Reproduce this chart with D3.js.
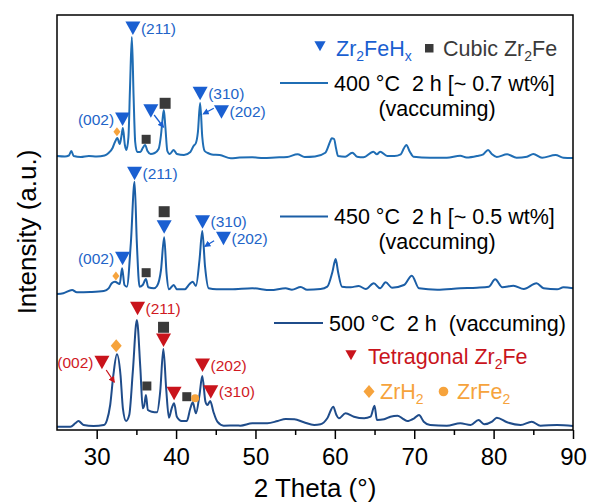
<!DOCTYPE html>
<html>
<head>
<meta charset="utf-8">
<script src="https://cdn.jsdelivr.net/npm/d3@7"></script>
<style>
  body { margin: 0; background: #fff; }
  text { font-family: Arial, "Liberation Sans", sans-serif; }
</style>
</head>
<body>
<svg id="xrd" width="589" height="503"></svg>
<script>
// 2 theta (deg) / intensity (a.u., relative to each pattern's own baseline)
var pattern400 = [
  [25.0, 1], [26.0, 0.5], [26.5, 1.5], [26.8, 6], [27.1, 1], [28.0, 0], [29.0, 1], [30.0, 0.5],
  [31.0, 1.5], [31.5, 4], [32.0, 9], [32.3, 15], [32.6, 19], [32.9, 13], [33.1, 20], [33.3, 29],
  [33.55, 12], [33.75, 7], [34.0, 20], [34.2, 70], [34.43, 120], [34.65, 60], [34.85, 15], [35.1, 5],
  [35.5, 5], [35.8, 9], [36.1, 12], [36.4, 6], [36.8, 3], [37.3, 4], [37.8, 8], [38.1, 22],
  [38.3, 38], [38.46, 47], [38.65, 30], [38.9, 6], [39.2, 3], [39.7, 7], [40.1, 3], [41.0, 2],
  [41.8, 5], [42.2, 11], [42.5, 14], [42.75, 25], [43.03, 54], [43.3, 20], [43.6, 6], [44.0, 4],
  [44.5, 2.5], [45.5, 2], [46.9, -1.3], [48.0, -0.5], [49.6, -0.3], [51.0, -1], [52.5, -0.5],
  [54.0, 0], [55.3, 2.7], [56.2, 0], [57.5, 0.5], [58.8, 4.3], [59.4, 15.3], [59.6, 18.7],
  [59.9, 18], [60.15, 8.7], [60.4, 1], [61.3, 0.3], [62.2, 4.3], [62.8, 0.3], [63.6, -0.3],
  [64.85, 5.3], [65.3, 2.7], [65.7, 5.3], [66.6, 1], [67.5, 1], [68.3, 2.7], [68.7, 8.7], [69.0, 12],
  [69.45, 5.3], [69.9, 0.3], [72.0, -0.7], [74.1, -0.7], [75.8, 1.3], [76.6, -0.5], [77.9, 1],
  [78.7, 2.7], [79.3, 7], [79.8, 2.7], [80.4, 0], [81.7, 2.7], [82.9, -0.7], [84.2, 0.3], [85.0, 3],
  [86.1, -0.7], [87.8, 2], [88.8, -0.7], [90.0, -1]
];
var pattern450 = [
  [25.0, -4], [25.8, -3.3], [26.9, 0], [27.5, -2.3], [29.2, -2], [30.9, -1], [31.5, 1.7], [31.9, 6.7],
  [32.3, 8.3], [32.9, 6], [33.2, 21.7], [33.5, 5], [33.8, 3.3], [34.3, 46.7], [34.77, 108.3],
  [35.06, 46.7], [35.4, 3.3], [35.8, 5], [36.2, 11], [36.5, 2.7], [37.2, 1.7], [37.6, 4], [38.1, 20],
  [38.5, 52.7], [38.8, 16.7], [39.1, 0.7], [39.7, 5], [40.1, 0.7], [41.1, 0.7], [41.7, 6], [42.1, 8.3],
  [42.5, 4], [42.95, 30], [43.3, 59], [43.65, 23.3], [44.1, 1.7], [45.1, 0.7], [46.9, 0.7],
  [49.6, 1.7], [51.9, 0], [53.8, 1.7], [54.6, 0.3], [55.7, 3], [56.5, 0.3], [58.2, 1], [59.05, 3.3],
  [59.7, 18.3], [60.1, 31], [60.4, 18.3], [60.9, 3.3], [62.0, 2.7], [63.0, 4], [63.9, 1], [64.9, 6.7],
  [65.7, 1.7], [66.4, 7.7], [67.2, 2.3], [68.7, 5], [69.7, 14.3], [70.6, 1.7], [72.9, 0.3],
  [75.8, 1.7], [77.9, 2.3], [79.4, 3.3], [80.2, 10.7], [81.1, 2.7], [82.5, 4.3], [83.8, 1],
  [85.4, 6.7], [86.3, 1.7], [88.0, 0.7], [88.8, 2.7], [90.0, 1.7]
];
var pattern500 = [
  [25.0, -0.7], [26.7, -0.7], [27.3, 2.7], [27.7, 5], [28.35, 1], [29.6, 0], [30.9, 1], [31.3, 6],
  [31.7, 21], [32.1, 51], [32.55, 71.7], [33.0, 51], [33.3, 17.7], [33.7, 5], [34.1, 11], [34.55, 54.3],
  [35.06, 106], [35.5, 57.7], [35.8, 17.7], [36.0, 21], [36.2, 31], [36.45, 16], [36.95, 14.3],
  [37.6, 13.7], [38.0, 34.3], [38.4, 77], [38.75, 37.7], [39.1, 8.3], [39.45, 17.7], [39.75, 22.7],
  [40.1, 9.3], [40.7, 5], [41.35, 5], [41.8, 17.7], [42.1, 23.7], [42.5, 12.7], [42.95, 31], [43.3, 50],
  [43.7, 24.3], [43.95, 21], [44.3, 25], [44.7, 14.3], [45.2, 4.3], [46.0, 0.3], [47.6, 0.5],
  [48.1, 0.3], [49.6, 2.7], [51.5, 2.7], [52.8, 5], [53.8, 7], [54.9, 6.7], [56.1, 3.7], [57.4, 1],
  [58.2, 1.7], [59.05, 7.7], [59.8, 19.3], [60.2, 11], [60.5, 7.7], [61.35, 12.7], [62.4, 9.3],
  [63.7, 7.7], [64.5, 9.3], [65.0, 20.3], [65.3, 6], [66.2, 6.7], [67.0, 9.3], [67.9, 10.3], [68.5, 7.7],
  [69.1, 5], [70.0, 7.7], [70.6, 11], [71.2, 4.3], [72.0, 1], [74.1, 0.3], [75.8, 2.7], [77.1, 1],
  [78.1, 6], [78.8, 1.7], [79.8, 4.3], [80.4, 8.3], [81.7, 3.7], [83.4, 1], [84.8, 4.3], [85.9, 0.3],
  [88.0, 1], [90.0, 0]
];
var offsets = [273, 140, 4];
var seriesNames = ["400", "450", "500"];
var seriesColors = ["#1f6db4", "#1b5ea6", "#1f4c8a"];
var xTicks = [30, 40, 50, 60, 70, 80, 90];
var xMinorTicks = [35, 45, 55, 65, 75, 85];

// peak markers: [series, type, 2theta, height, label, label side]
var peakMarks = [
  ["400", "tri", 34.56, 402, "(211)", "r"],
  ["400", "tri", 43.03, 336.7, "(310)", "r"],
  ["400", "tri", 45.72, 318.3, "(202)", "r"],
  ["400", "tri", 33.26, 311, "(002)", "l"],
  ["400", "tri", 36.82, 319.3, "", ""],
  ["400", "dia", 32.55, 298.3, "", ""],
  ["400", "sq", 36.23, 290.7, "", ""],
  ["400", "sqL", 38.62, 326.7, "", ""],
  ["450", "tri", 34.77, 256.7, "(211)", "r"],
  ["450", "sqL", 38.5, 218.3, "", ""],
  ["450", "tri", 38.5, 203.3, "", ""],
  ["450", "tri", 43.33, 208.3, "(310)", "r"],
  ["450", "tri", 45.97, 191.7, "(202)", "r"],
  ["450", "tri", 33.26, 171.7, "(002)", "l"],
  ["450", "dia", 32.42, 154, "", ""],
  ["450", "sq", 36.23, 157.3, "", ""],
  ["500", "rtri", 35.15, 121.7, "(211)", "r"],
  ["500", "sqL", 38.42, 102.7, "", ""],
  ["500", "rtri", 38.42, 90, "", ""],
  ["500", "diaL", 32.46, 84.3, "", ""],
  ["500", "rtri", 30.66, 67.7, "(002)", "l"],
  ["500", "sq", 36.32, 44, "", ""],
  ["500", "rtri", 39.75, 36.7, "", ""],
  ["500", "sq", 41.35, 33.3, "", ""],
  ["500", "dot", 42.4, 31.7, "", ""],
  ["500", "rtri", 43.33, 65, "(202)", "r"],
  ["500", "rtri", 44.37, 38.3, "(310)", "r"]
];
// small arrows from a marker to its peak: [x1, y1, x2, y2, colour]
var arrows = [
  [44.75, 321.7, 43.45, 316.2, "#1a5fd1"],
  [37.24, 315, 38.4, 303, "#1a5fd1"],
  [44.79, 189.3, 43.65, 183.8, "#1a5fd1"],
  [31.2, 60, 32.2, 48, "#c9141c"]
];

var blue = "#1a5fd1", red = "#c9141c", orange = "#f6a33c", grey = "#3a3a3a";

var svg = d3.select("#xrd");
var x = d3.scaleLinear().domain([25, 90]).range([57, 573]);
var y = d3.scaleLinear().domain([0, 415]).range([430, 15]);

// arrow head
svg.append("defs").selectAll("marker")
  .data([["ab", blue], ["ar", red]]).enter().append("marker")
  .attr("id", function(d) { return d[0]; })
  .attr("viewBox", "0 0 10 10").attr("refX", 8).attr("refY", 5)
  .attr("markerWidth", 5).attr("markerHeight", 5).attr("orient", "auto")
  .append("path").attr("d", "M0,0L10,5L0,10z").attr("fill", function(d) { return d[1]; });

// traces
var line = d3.line()
  .x(function(d) { return x(d[0]); })
  .curve(d3.curveMonotoneX);
[pattern400, pattern450, pattern500].forEach(function(p, i) {
  svg.append("path")
    .attr("d", line.y(function(d) { return y(d[1] + offsets[i]); })(p))
    .attr("fill", "none")
    .attr("stroke", seriesColors[i])
    .attr("stroke-width", 2)
    .attr("stroke-linejoin", "round");
});

// frame
svg.append("rect").attr("x", 57).attr("y", 15).attr("width", 516).attr("height", 415)
  .attr("fill", "none").attr("stroke", "#000").attr("stroke-width", 1.5);

// x axis
var xAxis = svg.append("g").attr("transform", "translate(0,430)")
  .call(d3.axisBottom(x).tickValues(xTicks).tickSize(9).tickPadding(9).tickFormat(d3.format("d")));
xAxis.select(".domain").remove();
xAxis.selectAll("line").attr("stroke-width", 1.5);
xAxis.selectAll("text").attr("font-size", 24).attr("fill", "#000")
  .style("font-family", "Arial, 'Liberation Sans', sans-serif");
var xMinor = svg.append("g").attr("transform", "translate(0,430)")
  .call(d3.axisBottom(x).tickValues(xMinorTicks).tickSize(5).tickFormat(""));
xMinor.select(".domain").remove();
xMinor.selectAll("line").attr("stroke-width", 1.5);

svg.append("text").attr("x", 315).attr("y", 497).attr("text-anchor", "middle")
  .attr("font-size", 26).text("2 Theta (°)");
svg.append("text").attr("transform", "translate(36,232) rotate(-90)")
  .attr("text-anchor", "middle").attr("font-size", 26).text("Intensity (a.u.)");

// marker shapes
function drawShape(g, type, cx, cy) {
  if (type === "tri" || type === "rtri") {
    g.append("path")
      .attr("d", "M" + (cx - 7.5) + "," + (cy - 6.5) + "L" + (cx + 7.5) + "," + (cy - 6.5) + "L" + cx + "," + (cy + 7) + "Z")
      .attr("fill", type === "tri" ? blue : red);
  } else if (type === "sq" || type === "sqL") {
    var s = type === "sq" ? 9 : 11;
    g.append("rect").attr("x", cx - s / 2).attr("y", cy - s / 2).attr("width", s).attr("height", s)
      .attr("fill", grey);
  } else if (type === "dia" || type === "diaL") {
    var w = type === "dia" ? 3.5 : 5.5, h = type === "dia" ? 4.5 : 6.5;
    g.append("path")
      .attr("d", "M" + cx + "," + (cy - h) + "L" + (cx + w) + "," + cy + "L" + cx + "," + (cy + h) + "L" + (cx - w) + "," + cy + "Z")
      .attr("fill", orange);
  } else if (type === "dot") {
    g.append("circle").attr("cx", cx).attr("cy", cy).attr("r", 4).attr("fill", orange);
  }
}

var marks = svg.append("g");
peakMarks.forEach(function(m) {
  var cx = x(m[2]), cy = y(m[3]);
  drawShape(marks, m[1], cx, cy);
  if (m[4]) {
    marks.append("text")
      .attr("x", m[5] === "r" ? cx + 8 : cx - 8.5)
      .attr("y", cy + 5.5)
      .attr("text-anchor", m[5] === "r" ? "start" : "end")
      .attr("font-size", 15.5)
      .attr("fill", m[1] === "rtri" ? "#d0191f" : "#2264c8")
      .text(m[4]);
  }
});
arrows.forEach(function(a) {
  marks.append("line")
    .attr("x1", x(a[0])).attr("y1", y(a[1])).attr("x2", x(a[2])).attr("y2", y(a[3]))
    .attr("stroke", a[4]).attr("stroke-width", 1.3)
    .attr("marker-end", a[4] === red ? "url(#ar)" : "url(#ab)");
});

// legends
var leg = svg.append("g").attr("font-size", 21.5);
drawShape(leg, "tri", 320, 46);
leg.select("path:last-child").attr("transform", "translate(320,46) scale(0.75) translate(-320,-46)");
var t1 = leg.append("text").attr("x", 336).attr("y", 56).attr("fill", blue);
t1.append("tspan").text("Zr");
t1.append("tspan").attr("font-size", 14).attr("dy", 5).text("2");
t1.append("tspan").attr("dy", -5).text("FeH");
t1.append("tspan").attr("font-size", 14).attr("dy", 5).text("x");
leg.append("rect").attr("x", 425).attr("y", 44).attr("width", 8.5).attr("height", 8.5).attr("fill", grey);
var t2 = leg.append("text").attr("x", 443).attr("y", 56).attr("fill", grey);
t2.append("tspan").text("Cubic Zr");
t2.append("tspan").attr("font-size", 14).attr("dy", 5).text("2");
t2.append("tspan").attr("dy", -5).text("Fe");

var legLines = [
  [280, 328, 83, "400 °C  2 h [~ 0.7 wt%]", 334, "(vaccuming)"],
  [280, 328, 216.5, "450 °C  2 h [~ 0.5 wt%]", 334, "(vaccuming)"],
  [274, 323, 323, "500 °C  2 h  (vaccuming)", 329, ""]
];
legLines.forEach(function(l, i) {
  leg.append("line").attr("x1", l[0]).attr("x2", l[1]).attr("y1", l[2]).attr("y2", l[2])
    .attr("stroke", seriesColors[i]).attr("stroke-width", 1.8);
  leg.append("text").attr("x", l[4]).attr("y", l[2] + 7.5).style("white-space", "pre").text(l[3]);
  if (l[5]) leg.append("text").attr("x", 437).attr("y", l[2] + 32.5).attr("text-anchor", "middle").text(l[5]);
});

drawShape(leg, "rtri", 351, 355);
leg.select("path:last-child").attr("transform", "translate(351,355) scale(0.75) translate(-351,-355)");
var t3 = leg.append("text").attr("x", 368).attr("y", 364).attr("fill", red);
t3.append("tspan").text("Tetragonal Zr");
t3.append("tspan").attr("font-size", 14).attr("dy", 5).text("2");
t3.append("tspan").attr("dy", -5).text("Fe");

drawShape(leg, "diaL", 369, 391.5);
var t4 = leg.append("text").attr("x", 380).attr("y", 399).attr("fill", orange);
t4.append("tspan").text("ZrH");
t4.append("tspan").attr("font-size", 14).attr("dy", 5).text("2");
drawShape(leg, "dot", 443.5, 391.5);
leg.select("circle:last-child").attr("r", 4.8);
var t5 = leg.append("text").attr("x", 457).attr("y", 399).attr("fill", orange);
t5.append("tspan").text("ZrFe");
t5.append("tspan").attr("font-size", 14).attr("dy", 5).text("2");
</script>
</body>
</html>
